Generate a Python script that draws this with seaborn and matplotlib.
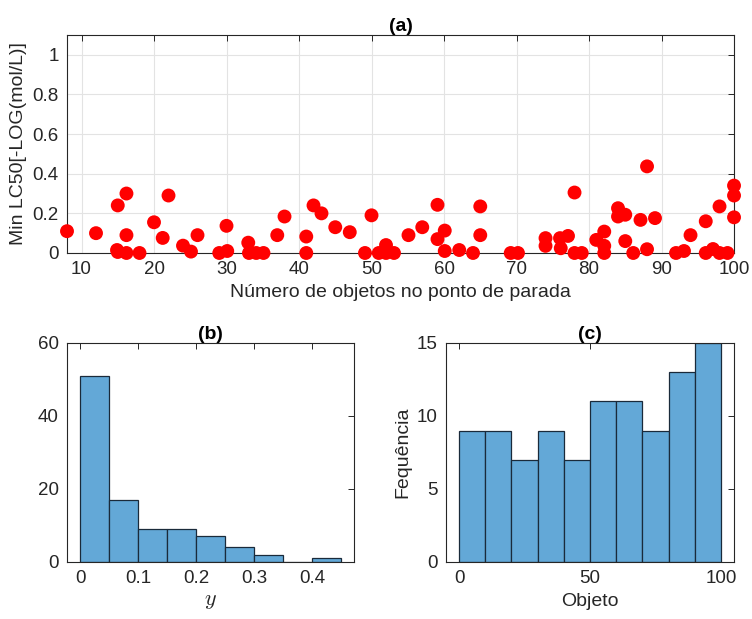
import numpy as np
import pandas as pd
import matplotlib
matplotlib.use("Agg")
import matplotlib.pyplot as plt
import seaborn as sns

# ---- data ----
obj_x = [8, 12, 15, 16.2, 16.2, 14.9, 16.2, 15, 18, 20, 21.2, 22, 24, 25.1, 26, 29, 30.1, 30, 33, 33.1,
         34.1, 35.1, 37, 38, 41, 41, 42, 43.1, 45, 47, 49.1, 50, 51, 52, 52, 53.1, 55.1, 57, 59.1, 59.1,
         60.1, 60.1, 62.1, 64, 65, 65, 69.2, 70.2, 74, 74, 76, 76.1, 77.1, 78, 78, 79, 81, 82.1, 82.1, 82.1,
         84, 84, 85, 85, 86.1, 87.1, 88, 88, 89.1, 92, 93.1, 94, 96.1, 96.1, 97.1, 98, 98, 99.1, 100, 100, 100]
min_lc50 = [0.11, 0.10, 0.24, 0.30, 0.09, 0.015, 0.0, 0.005, 0.0, 0.155, 0.076, 0.29, 0.037, 0.007, 0.09, 0.0, 0.01, 0.137, 0.052, 0.0,
            0.0, 0.0, 0.09, 0.184, 0.083, 0.0, 0.24, 0.20, 0.13, 0.105, 0.0, 0.19, 0.0, 0.04, 0.0, 0.0, 0.09, 0.13, 0.243, 0.07,
            0.113, 0.01, 0.015, 0.0, 0.235, 0.09, 0.0, 0.0, 0.075, 0.036, 0.075, 0.024, 0.086, 0.305, 0.0, 0.0, 0.066, 0.108, 0.036, 0.0,
            0.226, 0.184, 0.193, 0.06, 0.0, 0.167, 0.437, 0.019, 0.176, 0.0, 0.01, 0.09, 0.16, 0.0, 0.02, 0.235, 0.0, 0.0, 0.34, 0.29, 0.18]

y_bin_edges = [0.0, 0.05, 0.10, 0.15, 0.20, 0.25, 0.30, 0.35, 0.40, 0.45]
y_counts = [51, 17, 9, 9, 7, 4, 2, 0, 1]

obj_bin_edges = [0, 10, 20, 30, 40, 50, 60, 70, 80, 90, 100]
obj_counts = [9, 9, 7, 9, 7, 11, 11, 9, 13, 15]

# ---- style ----
sns.set_theme(style="white")
plt.rcParams["font.family"] = ["Liberation Sans", "DejaVu Sans"]
plt.rcParams["mathtext.fontset"] = "cm"
txt = "#262626"
bar_color = "#63a8d7"
edge_color = "#1a2a3a"

fig = plt.figure(figsize=(7.52, 6.19), dpi=100)

def style_axes(ax, grid=False):
    for s in ax.spines.values():
        s.set_color("#262626")
        s.set_linewidth(0.8)
    ax.tick_params(direction="in", length=4, width=0.7, colors=txt, labelsize=13.5,
                   top=True, right=True, labelcolor=txt, pad=6)
    if grid:
        ax.grid(True, color="#e3e3e3", linewidth=0.8)
        ax.set_axisbelow(True)

# (a) scatter
ax1 = fig.add_axes([0.0891, 0.5913, 0.887, 0.3522])
df = pd.DataFrame({"obj": obj_x, "lc50": min_lc50})
sns.scatterplot(data=df, x="obj", y="lc50", ax=ax1, color="#ff0000", s=100,
                edgecolor="none", linewidth=0, zorder=3, clip_on=False)
ax1.set_xlim(8, 100)
ax1.set_ylim(0, 1.1)
ax1.set_xticks(np.arange(10, 101, 10))
ax1.set_yticks([0, 0.2, 0.4, 0.6, 0.8, 1.0])
ax1.set_yticklabels(["0", "0.2", "0.4", "0.6", "0.8", "1"])
style_axes(ax1, grid=True)
ax1.set_xlabel("Número de objetos no ponto de parada", fontsize=14, color=txt, labelpad=4)
ax1.set_ylabel("Min LC50[-LOG(mol/L)]", fontsize=14, color=txt, labelpad=4)
ax1.set_title("(a)", fontsize=14, fontweight="bold", color="black", pad=3)

# (b) histogram of y
ax2 = fig.add_axes([0.0891, 0.0921, 0.3817, 0.3538])
centers_b = [(a + b) / 2 for a, b in zip(y_bin_edges[:-1], y_bin_edges[1:])]
sns.histplot(x=centers_b, weights=y_counts, bins=y_bin_edges, ax=ax2,
             color=bar_color, edgecolor=edge_color, linewidth=0.9, alpha=1)
ax2.set_xlim(-0.0225, 0.4725)
ax2.set_ylim(0, 60)
ax2.set_xticks([0, 0.1, 0.2, 0.3, 0.4])
ax2.set_xticklabels(["0", "0.1", "0.2", "0.3", "0.4"])
ax2.set_yticks([0, 20, 40, 60])
style_axes(ax2)
ax2.set_xlabel("$y$", fontsize=16, color=txt, labelpad=2)
ax2.set_ylabel("")
ax2.set_title("(b)", fontsize=14, fontweight="bold", color="black", pad=3)

# (c) histogram of objects
ax3 = fig.add_axes([0.5931, 0.0921, 0.383, 0.3538])
centers_c = [(a + b) / 2 for a, b in zip(obj_bin_edges[:-1], obj_bin_edges[1:])]
sns.histplot(x=centers_c, weights=obj_counts, bins=obj_bin_edges, ax=ax3,
             color=bar_color, edgecolor=edge_color, linewidth=0.9, alpha=1)
ax3.set_xlim(-5, 105)
ax3.set_ylim(0, 15)
ax3.set_xticks([0, 50, 100])
ax3.set_yticks([0, 5, 10, 15])
style_axes(ax3)
ax3.set_xlabel("Objeto", fontsize=14, color=txt, labelpad=4)
ax3.set_ylabel("Fequência", fontsize=14, color=txt, labelpad=4)
ax3.set_title("(c)", fontsize=14, fontweight="bold", color="black", pad=3)

fig.savefig("out.png", dpi=100)
